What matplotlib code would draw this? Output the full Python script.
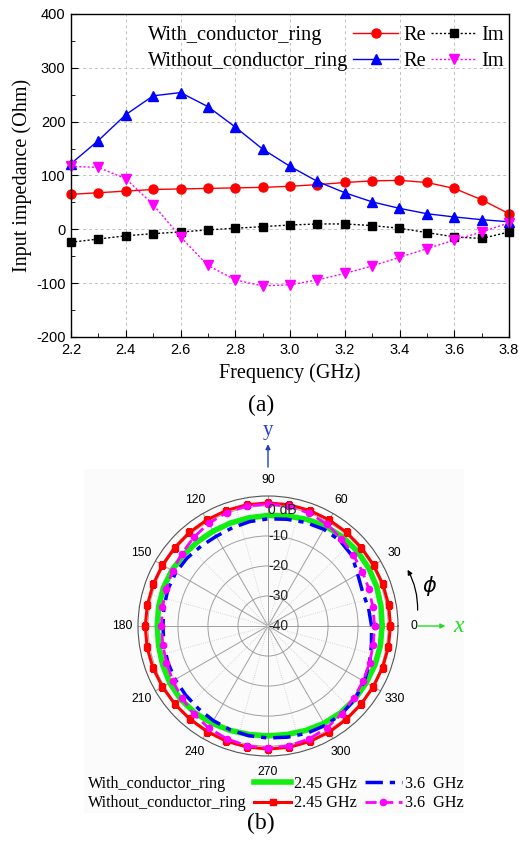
import numpy as np
import matplotlib
matplotlib.use("Agg")
from matplotlib import pyplot as plt
from matplotlib.lines import Line2D
from matplotlib.patches import Rectangle
from matplotlib.ticker import MultipleLocator, FixedLocator

SERIF = "Liberation Serif"
SANS = "Liberation Sans"
plt.rcParams["axes.unicode_minus"] = False

# (a) input impedance
freq = [2.2, 2.3, 2.4, 2.5, 2.6, 2.7, 2.8, 2.9, 3.0, 3.1, 3.2, 3.3, 3.4, 3.5, 3.6, 3.7, 3.8]
re_with = [65, 68, 71, 74, 75, 76, 77, 78, 80, 83, 87, 90, 91, 87, 76, 55, 29]
im_with = [-24, -18, -12, -8, -5, -1, 2, 5, 8, 10, 10, 7, 2, -6, -14, -17, -5]
re_without = [122, 165, 213, 248, 254, 228, 190, 149, 117, 89, 68, 51, 39, 29, 23, 18, 14]
im_without = [117, 115, 94, 46, -14, -67, -94, -105, -103, -94, -82, -68, -52, -36, -20, -5, 12]

# (b) radiation pattern, dB, every 10 deg from 0 to 350
angle_deg = list(range(0, 360, 10))
g245_with = [-2.0, -1.8, -1.5, -1.3, -1.2, -1.3, -1.6, -2.2, -2.8, -3.2, -3.4, -3.5,
             -3.5, -3.4, -3.2, -3.0, -2.9, -3.0, -3.1, -3.0, -2.6, -2.2, -2.0, -2.2,
             -2.6, -3.0, -3.3, -3.4, -3.3, -3.0, -2.6, -2.3, -2.2, -2.2, -2.1, -2.0]
g36_with = [-5.5, -6.0, -6.5, -5.5, -3.5, -2.8, -2.8, -3.3, -3.9, -4.3, -4.7, -5.2,
            -5.5, -5.3, -4.8, -4.5, -4.5, -4.8, -5.0, -4.8, -4.5, -4.3, -4.2, -4.0,
            -3.6, -3.2, -2.9, -2.7, -2.4, -2.0, -1.8, -1.8, -2.2, -3.0, -4.0, -5.0]
g245_without = [0.8, 0.8, 0.7, 0.6, 0.6, 0.7, 0.8, 0.9, 1.0, 1.0, 1.0, 0.9,
                0.8, 0.7, 0.6, 0.6, 0.7, 0.8, 0.9, 0.9, 0.8, 0.6, 0.5, 0.5,
                0.6, 0.8, 0.9, 1.0, 1.0, 0.9, 0.8, 0.6, 0.5, 0.5, 0.6, 0.7]
g36_without = [-4.5, -4.5, -4.2, -3.7, -3.0, -2.0, -0.8, 0.0, 0.5, 0.7, 0.6, 0.2,
               -0.5, -1.5, -2.5, -3.3, -3.9, -4.3, -4.5, -4.4, -4.0, -3.4, -2.6, -1.6,
               -0.7, 0.0, 0.5, 0.7, 0.5, 0.0, -0.8, -1.8, -2.7, -3.4, -4.0, -4.4]
ring_db = [-40, -30, -20, -10, 0]
ring_labels = ["-40", "-30", "-20", "-10", "0 dB"]

W, H = 519, 841
fig = plt.figure(figsize=(W / 100, H / 100), dpi=100)

# faint panel behind the polar figure
fig.patches.append(Rectangle((84 / W, 1 - 813 / H), 380 / W, 344 / H,
                             transform=fig.transFigure, facecolor="#fbfbfb",
                             edgecolor="none", zorder=-5))

# ---------------- (a) ----------------
ax1 = fig.add_axes([71 / W, 1 - 337 / H, 438 / W, 323 / H])
l_re_w, = ax1.plot(freq, re_with, color="#ff0000", lw=1.0, marker="o", ms=6.5)
l_im_w, = ax1.plot(freq, im_with, color="black", lw=1.0, ls=(0, (1.5, 1.5)), marker="s", ms=5.5)
l_re_wo, = ax1.plot(freq, re_without, color="#0000ff", lw=1.0, marker="^", ms=7)
l_im_wo, = ax1.plot(freq, im_without, color="#ff00ff", lw=1.0, ls=(0, (1.5, 1.5)), marker="v", ms=7)
for ln in (l_re_w, l_im_w, l_re_wo, l_im_wo):
    ln.set_clip_on(False)

ax1.set_xlim(2.2, 3.8)
ax1.set_ylim(-200, 400)
ax1.xaxis.set_major_locator(MultipleLocator(0.2))
ax1.xaxis.set_minor_locator(MultipleLocator(0.1))
ax1.yaxis.set_major_locator(MultipleLocator(100))
ax1.yaxis.set_minor_locator(MultipleLocator(50))
ax1.tick_params(which="both", direction="in", top=False, right=False)
ax1.tick_params(which="major", length=5, labelsize=10.5, pad=4)
ax1.tick_params(which="minor", length=3)
for lab in ax1.get_xticklabels() + ax1.get_yticklabels():
    lab.set_family(SANS)
ax1.grid(True, which="major", ls=(0, (3, 3)), color="#c0c0c0", lw=0.7)
ax1.set_axisbelow(True)
for sp in ax1.spines.values():
    sp.set_linewidth(1.0)
ax1.set_xlabel("Frequency (GHz)", family=SERIF, fontsize=14.5, labelpad=5)
ax1.set_ylabel("Input impedance (Ohm)", family=SERIF, fontsize=14.5, labelpad=3)

blank = Line2D([], [], ls="none")
leg1 = ax1.legend([blank, blank, l_re_w, l_re_wo, l_im_w, l_im_wo],
                  ["With_conductor_ring", "Without_conductor_ring", "Re", "Re", "Im", "Im"],
                  ncol=3, frameon=False, prop={"family": SERIF, "size": 14.7},
                  handlelength=2.2, handletextpad=0.25, columnspacing=0.25,
                  labelspacing=0.3, borderpad=0, borderaxespad=0,
                  loc="upper left", bbox_to_anchor=(98 / W, 1 - 26 / H),
                  bbox_transform=fig.transFigure)
fig.text(261 / W, 1 - 405 / H, "(a)", family=SERIF, fontsize=17, ha="center", va="center")

# ---------------- (b) ----------------
ax2 = fig.add_axes([138 / W, 1 - 756 / H, 260 / W, 260 / H], projection="polar")
ax2.set_facecolor("none")
theta = np.deg2rad(angle_deg + [360])
def closed(v):
    return list(v) + [v[0]]

p_g_w, = ax2.plot(theta, closed(g245_with), color="#11ee11", lw=4)
p_b_w, = ax2.plot(theta, closed(g36_with), color="#0000ff", lw=2.5, ls=(0, (5, 2, 1.5, 2)))
p_r_wo, = ax2.plot(theta, closed(g245_without), color="#ff0000", lw=2.2, marker="s", ms=3.8)
p_m_wo, = ax2.plot(theta, closed(g36_without), color="#ff00ff", lw=2.0, ls=(0, (4, 2)),
                   marker="o", ms=4.5)

ax2.set_ylim(-40, 3.3)
ax2.set_yticks(ring_db[1:])
ax2.set_yticklabels([])
ax2.set_thetagrids(range(0, 360, 30), [str(a) for a in range(0, 360, 30)],
                   family=SANS, fontsize=8.8)
ax2.xaxis.set_minor_locator(FixedLocator(np.deg2rad(np.arange(15, 360, 30))))
ax2.tick_params(axis="x", pad=1)
ax2.grid(True, which="major", color="#a0a0a0", lw=0.7, ls="-")
ax2.xaxis.grid(True, which="minor", color="#c8c8c8", lw=0.6, ls=":")
ax2.spines["polar"].set_color("#555555")
ax2.spines["polar"].set_linewidth(0.8)
label_r = [-40, -30, -20, -10, -1.4]
for r, lab in zip(label_r, ring_labels):
    ax2.text(np.pi / 2, r, lab, family=SANS, fontsize=10, ha="left", va="center",
             color="#222222")

# axis arrows
ax2.annotate("", xy=(np.pi / 2, 21.5), xytext=(np.pi / 2, 12), annotation_clip=False,
             arrowprops=dict(arrowstyle="-|>", color="#2040c0", lw=1.0, mutation_scale=7))
ax2.text(np.pi / 2, 25, "y", family=SERIF, fontsize=15, color="#2040c0",
         ha="center", va="center", clip_on=False)
ax2.annotate("", xy=(0, 20), xytext=(0, 9), annotation_clip=False,
             arrowprops=dict(arrowstyle="-|>", color="#22dd22", lw=1.0, mutation_scale=7))
ax2.text(0, 23.5, "x", family=SERIF, style="italic", fontsize=17, color="#22dd22",
         ha="center", va="center", clip_on=False)
ax2.annotate("", xy=(np.deg2rad(23), 10), xytext=(np.deg2rad(5), 10), annotation_clip=False,
             arrowprops=dict(arrowstyle="-|>", color="black", lw=0.9, mutation_scale=7,
                             connectionstyle="arc3,rad=0.15"))
ax2.text(np.deg2rad(14), 15.5, r"$\phi$", fontsize=15, ha="center", va="center",
         clip_on=False)

leg2 = fig.legend([blank, blank, p_g_w, p_r_wo, p_b_w, p_m_wo],
                  ["With_conductor_ring", "Without_conductor_ring",
                   "2.45 GHz", "2.45 GHz", "3.6  GHz", "3.6  GHz"],
                  ncol=3, frameon=False, prop={"family": SERIF, "size": 11.6},
                  handlelength=2.3, handletextpad=0.2, columnspacing=0.45,
                  labelspacing=0.2, borderpad=0, borderaxespad=0,
                  loc="upper left", bbox_to_anchor=(48 / W, 1 - 776 / H))
fig.text(261 / W, 1 - 823 / H, "(b)", family=SERIF, fontsize=17, ha="center", va="center")

fig.savefig("out.png", dpi=100)
